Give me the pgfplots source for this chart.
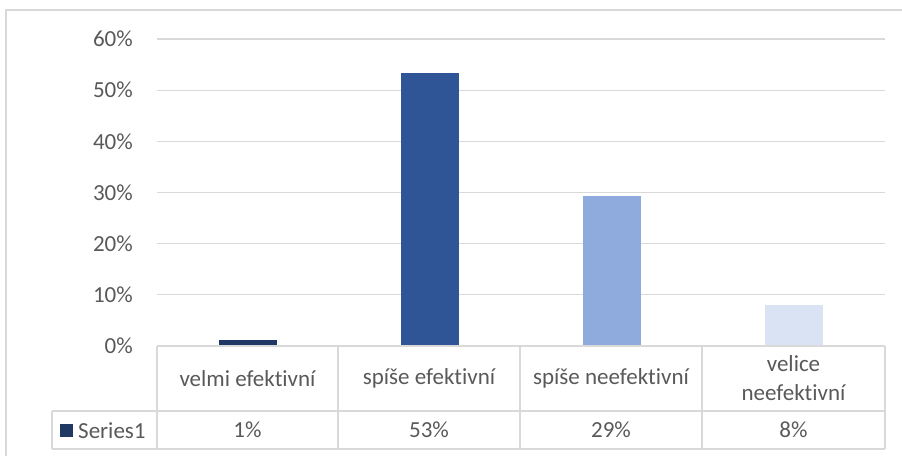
\documentclass[border=0pt]{standalone}
\usepackage{pgfplots}
\pgfplotsset{compat=1.18}
\usepackage{fontspec}
\setmainfont{Carlito}[Ligatures={NoCommon}]
\definecolor{txt}{HTML}{595959}
\definecolor{gridc}{HTML}{D9D9D9}
\definecolor{c1}{HTML}{203864}
\definecolor{c2}{HTML}{2F5597}
\definecolor{c3}{HTML}{8FAADC}
\definecolor{c4}{HTML}{DAE3F3}
\pgfkeys{/pgf/number format/assume math mode=true}
% shares of answers, in percent
\def\va{1.2}
\def\vb{53.3}
\def\vc{29.3}
\def\vd{8.0}
\newcommand{\lbl}{\fontsize{23bp}{29bp}\selectfont\color{txt}}
\begin{document}
\begin{tikzpicture}[x=1bp,y=1bp]
\useasboundingbox (0,0) rectangle (902,456);
\draw[gridc, line width=1.3bp] (6,0) -- (6,446) -- (902,446);
\begin{axis}[
  at={(157bp,110bp)}, anchor=south west,
  scale only axis, width=728bp, height=307bp,
  xmin=-0.5, xmax=3.5, ymin=0, ymax=60,
  ytick={0,10,...,60}, xtick=\empty,
  yticklabel={\pgfmathprintnumber[assume math mode=true]{\tick}\%},
  yticklabel style={font=\lbl, anchor=east, inner sep=0pt, xshift=-24bp},
  axis line style={draw=none}, major tick length=0pt,
  ymajorgrids, grid style={gridc, line width=1.3bp},
  ybar, bar width=0.3187, bar shift=0pt,
  clip=false,
]
\addplot[fill=c1, draw=none] coordinates {(0,\va)};
\addplot[fill=c2, draw=none] coordinates {(1,\vb)};
\addplot[fill=c3, draw=none] coordinates {(2,\vc)};
\addplot[fill=c4, draw=none] coordinates {(3,\vd)};
\end{axis}
% data table below the bars
\begin{scope}[gridc, line width=1.8bp]
\draw (157,110) -- (885,110);
\draw (52,45) -- (885,45);
\draw (52,7) -- (885,7);
\draw (52,45) -- (52,7);
\foreach \xx in {157,338,520,702,885} \draw (\xx,110) -- (\xx,7);
\end{scope}
\node[font=\lbl] at (247.5,77.5) {velmi efektivní};
\node[font=\lbl] at (429,77.5) {spíše efektivní};
\node[font=\lbl] at (611,77.5) {spíše neefektivní};
\node[font=\lbl, align=center] at (793.5,77.5) {velice\\neefektivní};
\fill[c1] (60,18.5) rectangle (73,31.5);
\node[font=\lbl, anchor=west, inner sep=0pt] at (78,25.5) {Series1};
\node[font=\lbl] at (247.5,26) {\pgfmathprintnumber[fixed,precision=0]{\va}\%};
\node[font=\lbl] at (429,26) {\pgfmathprintnumber[fixed,precision=0]{\vb}\%};
\node[font=\lbl] at (611,26) {\pgfmathprintnumber[fixed,precision=0]{\vc}\%};
\node[font=\lbl] at (793.5,26) {\pgfmathprintnumber[fixed,precision=0]{\vd}\%};
\end{tikzpicture}
\end{document}
